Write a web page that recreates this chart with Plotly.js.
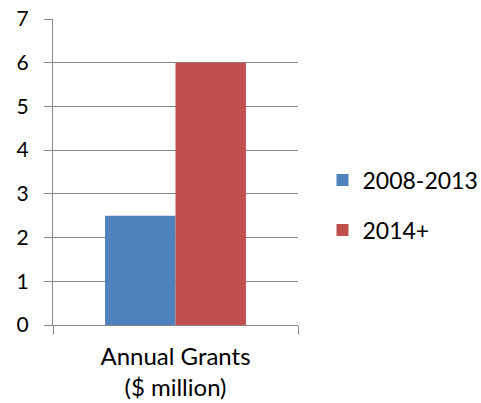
<!DOCTYPE html>
<html>
<head>
<meta charset="utf-8">
<script src="https://cdn.plot.ly/plotly-3.0.1.min.js"></script>
<style>html,body{margin:0;padding:0;background:#fff;}#chart{width:481px;height:403px;}</style>
</head>
<body>
<div id="chart"></div>
<script>
const categories = ["Annual Grants<br>($ million)"];
const seriesNames = ["2008-2013", "2014+"];
const values2008 = [2.5];
const values2014 = [6];
const colors = ["#4F81BD", "#C0504D"];
const yTicks = [0, 1, 2, 3, 4, 5, 6, 7];

const traces = [
  {type: "bar", name: seriesNames[0], x: categories, y: values2008, marker: {color: colors[0]}, legendgroup: "a"},
  {type: "bar", name: seriesNames[1], x: categories, y: values2014, marker: {color: colors[1]}, legendgroup: "b"}
];

const layout = {
  width: 481, height: 403,
  margin: {l: 53, r: 183, t: 19, b: 78, pad: 0, autoexpand: false},
  paper_bgcolor: "#fff", plot_bgcolor: "#fff",
  font: {family: "Lato, 'Open Sans', sans-serif", size: 21, color: "#000"},
  barmode: "group",
  bargap: 0.425,
  bargroupgap: 0,
  showlegend: true,
  legend: {x: 1.10, xanchor: "left", y: 0.392, yanchor: "middle", traceorder: "grouped", tracegroupgap: 17, font: {size: 23}, bgcolor: "rgba(0,0,0,0)", borderwidth: 0},
  xaxis: {
    type: "category", tickson: "boundaries", ticks: "outside", ticklen: 8, tickcolor: "#868686", tickwidth: 1,
    showline: true, linecolor: "#868686", linewidth: 1, showgrid: false, zeroline: false,
    tickfont: {size: 24}, ticklabelstandoff: 10
  },
  yaxis: {
    range: [0, 7], tickvals: yTicks, ticks: "outside", ticklen: 8, tickcolor: "#868686", tickwidth: 1,
    showline: true, linecolor: "#868686", linewidth: 1, showgrid: true, gridcolor: "#868686", gridwidth: 1,
    zeroline: false, tickfont: {size: 21}, ticklabelstandoff: 11
  }
};

Plotly.newPlot("chart", traces, layout, {displayModeBar: false, staticPlot: true});
</script>
</body>
</html>
